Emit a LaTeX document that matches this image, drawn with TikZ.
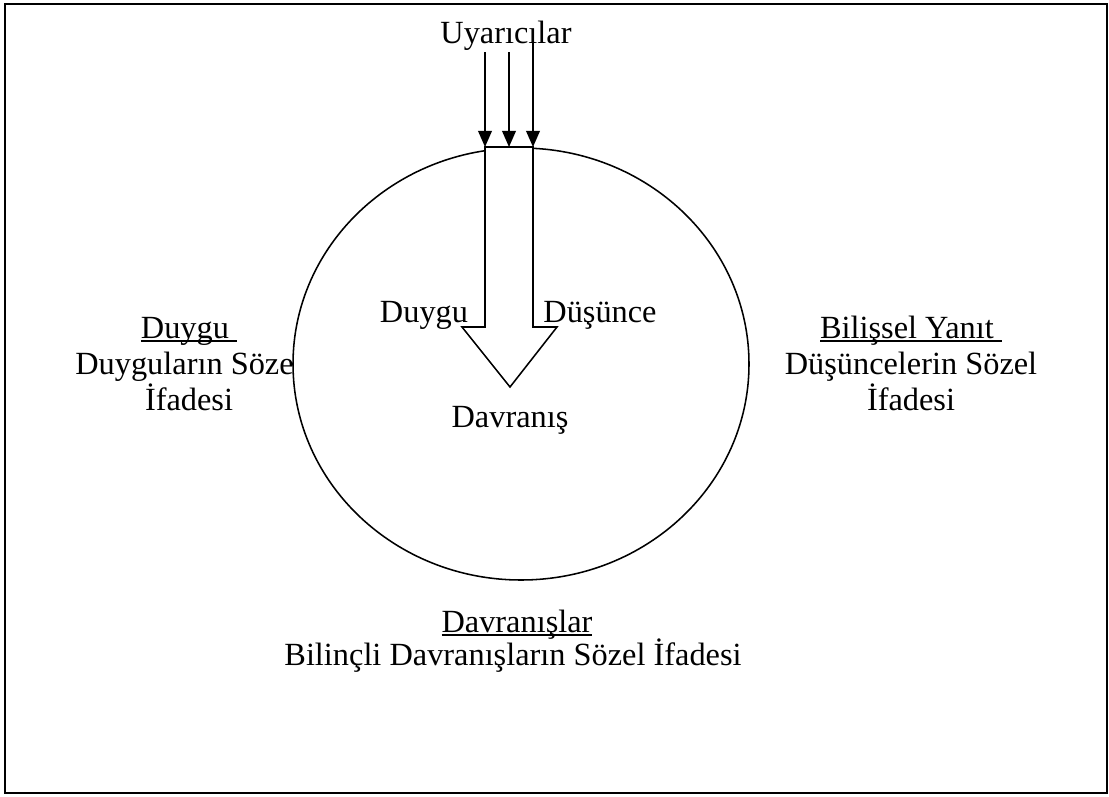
\documentclass[tikz,border=0pt]{standalone}
\usepackage{fontspec}
\setmainfont{Liberation Serif}
\usetikzlibrary{arrows.meta}
\newcommand{\alticizili}[1]{\setbox0\hbox{#1}\rlap{\rule[-2.6pt]{\wd0}{1.1pt}}\box0}
\begin{document}
\begin{tikzpicture}[x=0.025cm,y=-0.025cm,
    yazi/.style={font=\fontsize{23}{25.6}\selectfont,inner sep=0pt,align=center,anchor=base},
    cizgi/.style={line width=1.1pt},
    ok/.style={-{Triangle[length=4mm,width=3.4mm]},cizgi}]
  \useasboundingbox (0,0) rectangle (1109,796);
  \draw[line width=1.3pt] (5,4) rectangle (1107,793);
  % texts round the ellipse
  \node[yazi] (duygu) at (189,410) {\alticizili{Duygu\ }\\Duyguların Sözel\\İfadesi};
  \node[yazi] (bilissel) at (911,410) {\alticizili{Bilişsel Yanıt\ }\\Düşüncelerin Sözel\\İfadesi};
  \node[yazi] (davranislar) at (517,632) {\alticizili{Davranışlar}};
  \node[yazi] (bilincli) at (513,665) {Bilinçli Davranışların Sözel İfadesi};
  \node[yazi] (uyarici) at (506,43) {Uyarıcılar};
  % ellipse
  \draw[cizgi,fill=white] (521,364) ellipse [x radius=228,y radius=216];
  % block arrow
  \coordinate (g1) at (485,147);
  \coordinate (g2) at (509,147);
  \coordinate (g3) at (533,147);
  \draw[cizgi,fill=white] (g1) -- (485,327) -- (462,327) -- (510,387)
    -- (557,327) -- (533,327) -- (g3) -- cycle;
  \coordinate (u1) at (485,52);
  \coordinate (u2) at (509,52);
  \coordinate (u3) at (533,40);
  \draw[ok] (u1) -- (g1);
  \draw[ok] (u2) -- (g2);
  \draw[ok] (u3) -- (g3);
  \node[yazi] (icduygu) at (424,322) {Duygu};
  \node[yazi] (dusunce) at (600,322) {Düşünce};
  \node[yazi] (davranis) at (510,427) {Davranış};
\end{tikzpicture}
\end{document}
